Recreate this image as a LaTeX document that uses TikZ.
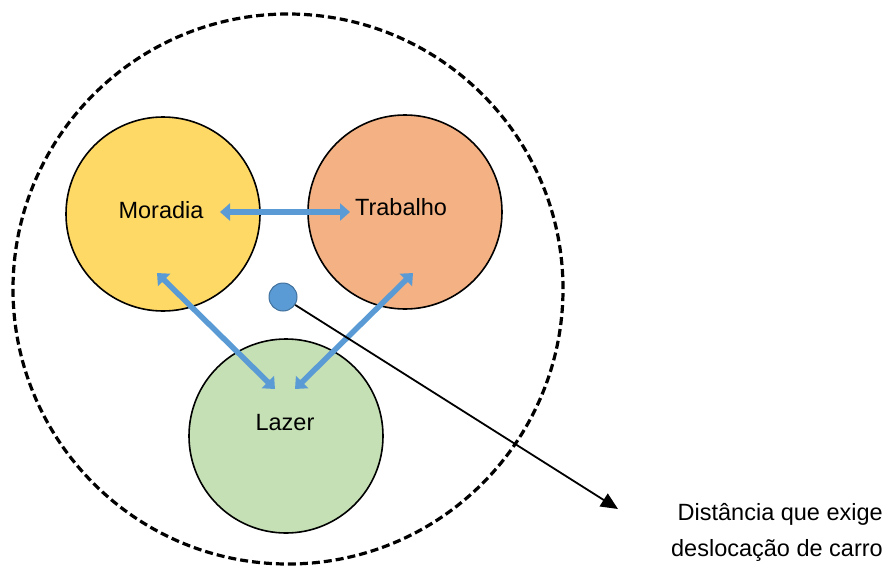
\documentclass[tikz,border=0pt]{standalone}
\usepackage{fontspec}
\setmainfont{Liberation Sans}
\usetikzlibrary{arrows.meta,calc}
\definecolor{moradiaFill}{HTML}{FFD966}
\definecolor{trabalhoFill}{HTML}{F4B183}
\definecolor{lazerFill}{HTML}{C5E0B4}
\definecolor{linkBlue}{HTML}{5B9BD5}
\definecolor{dotEdge}{HTML}{41719C}
\tikzset{
  zone/.style={circle, draw=black, line width=1.6pt, minimum size=194pt, inner sep=0pt},
  zonelabel/.style={font=\fontsize{23.5}{28}\selectfont, inner sep=0pt},
  link/.style={draw=linkBlue, line width=5.5pt,
    {Triangle[width=17pt,length=10pt]}-{Triangle[width=17pt,length=10pt]}},
  pointer/.style={draw=black, line width=1.8pt, -{Triangle[width=15pt,length=17pt]}},
}
\begin{document}
\begin{tikzpicture}[x=1pt,y=-1pt]
  \useasboundingbox (0,0) rectangle (886,570);
  % outer dashed boundary
  \node[circle, draw=black, line width=3.2pt, dash pattern=on 8pt off 4pt,
        minimum size=550pt, inner sep=0pt] (area) at (288,289) {};
  % the three zones
  \node[zone, fill=moradiaFill] (moradia) at (163,214) {};
  \node[zone, fill=trabalhoFill] (trabalho) at (405,212) {};
  \node[zone, fill=lazerFill] (lazer) at (286,436) {};
  \node[zonelabel] (tMoradia) at (161,210) {Moradia};
  \node[zonelabel] (tTrabalho) at (401,207) {Trabalho};
  \node[zonelabel] (tLazer) at (285,423) {Lazer};
  % arrow end points inside the zones
  \coordinate (mR) at (220,212);
  \coordinate (tL) at (350,212);
  \coordinate (mB) at (157,273);
  \coordinate (lL) at (275,389);
  \coordinate (tB) at (413,273);
  \coordinate (lR) at (295,389);
  \draw[link] (mR) -- (tL);
  \draw[link] (mB) -- (lL);
  \draw[link] (tB) -- (lR);
  % centre dot and its pointer
  \node[circle, fill=linkBlue, draw=dotEdge, line width=1pt, minimum size=28pt, inner sep=0pt] (dot) at (283,297) {};
  \coordinate (tip) at (618,509);
  \draw[pointer] (dot.-33) -- (tip);
  \node[zonelabel, align=right, anchor=north east,
        font=\fontsize{23.5}{36}\selectfont] (note) at (883,503)
        {Distância que exige\\deslocação de carro};
\end{tikzpicture}
\end{document}
